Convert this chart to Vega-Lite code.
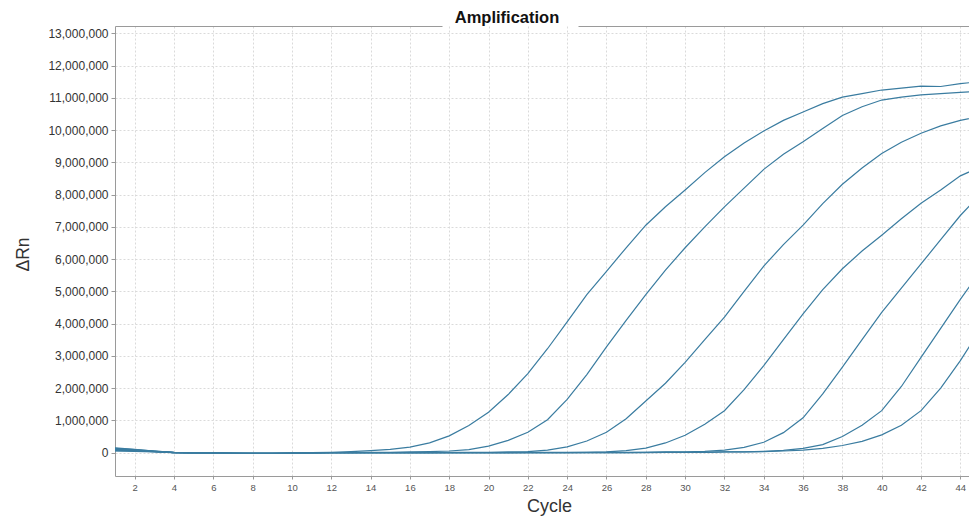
{
  "$schema": "https://vega.github.io/schema/vega-lite/v6.json",
  "width": 854,
  "height": 450,
  "autosize": {"type": "none"},
  "padding": {"left": 115, "top": 26, "right": 0, "bottom": 43},
  "background": "white",
  "config": {"view": {"stroke": null}, "font": "Liberation Sans"},
  "title": {"text": "Amplification", "fontSize": 16.5, "fontWeight": "bold", "color": "#111111", "anchor": "middle", "dx": -35, "dy": 16, "baseline": "alphabetic", "offset": 3, "font": "Liberation Sans"},
  "data": {"values": [
    {"well":"A","cycle":1,"rn":130000},{"well":"A","cycle":2,"rn":90000},{"well":"A","cycle":3,"rn":50000},{"well":"A","cycle":4,"rn":10000},{"well":"A","cycle":5,"rn":-10000},{"well":"A","cycle":6,"rn":-10000},{"well":"A","cycle":7,"rn":-20000},{"well":"A","cycle":8,"rn":-20000},{"well":"A","cycle":9,"rn":-20000},{"well":"A","cycle":10,"rn":-20000},
    {"well":"A","cycle":11,"rn":0},{"well":"A","cycle":12,"rn":10000},{"well":"A","cycle":13,"rn":30000},{"well":"A","cycle":14,"rn":60000},{"well":"A","cycle":15,"rn":100000},{"well":"A","cycle":16,"rn":170000},{"well":"A","cycle":17,"rn":300000},{"well":"A","cycle":18,"rn":520000},{"well":"A","cycle":19,"rn":840000},{"well":"A","cycle":20,"rn":1250000},
    {"well":"A","cycle":21,"rn":1800000},{"well":"A","cycle":22,"rn":2450000},{"well":"A","cycle":23,"rn":3220000},{"well":"A","cycle":24,"rn":4050000},{"well":"A","cycle":25,"rn":4900000},{"well":"A","cycle":26,"rn":5620000},{"well":"A","cycle":27,"rn":6350000},{"well":"A","cycle":28,"rn":7050000},{"well":"A","cycle":29,"rn":7620000},{"well":"A","cycle":30,"rn":8140000},
    {"well":"A","cycle":31,"rn":8680000},{"well":"A","cycle":32,"rn":9170000},{"well":"A","cycle":33,"rn":9600000},{"well":"A","cycle":34,"rn":9970000},{"well":"A","cycle":35,"rn":10300000},{"well":"A","cycle":36,"rn":10560000},{"well":"A","cycle":37,"rn":10820000},{"well":"A","cycle":38,"rn":11020000},{"well":"A","cycle":39,"rn":11130000},{"well":"A","cycle":40,"rn":11240000},
    {"well":"A","cycle":41,"rn":11300000},{"well":"A","cycle":42,"rn":11360000},{"well":"A","cycle":43,"rn":11350000},{"well":"A","cycle":44,"rn":11440000},{"well":"A","cycle":45,"rn":11500000},

    {"well":"B","cycle":1,"rn":100000},{"well":"B","cycle":2,"rn":70000},{"well":"B","cycle":3,"rn":40000},{"well":"B","cycle":4,"rn":0},{"well":"B","cycle":5,"rn":-10000},{"well":"B","cycle":6,"rn":-20000},{"well":"B","cycle":7,"rn":-20000},{"well":"B","cycle":8,"rn":-20000},{"well":"B","cycle":9,"rn":-20000},{"well":"B","cycle":10,"rn":-10000},
    {"well":"B","cycle":11,"rn":0},{"well":"B","cycle":12,"rn":0},{"well":"B","cycle":13,"rn":0},{"well":"B","cycle":14,"rn":10000},{"well":"B","cycle":15,"rn":10000},{"well":"B","cycle":16,"rn":20000},{"well":"B","cycle":17,"rn":30000},{"well":"B","cycle":18,"rn":50000},{"well":"B","cycle":19,"rn":90000},{"well":"B","cycle":20,"rn":200000},
    {"well":"B","cycle":21,"rn":380000},{"well":"B","cycle":22,"rn":630000},{"well":"B","cycle":23,"rn":1020000},{"well":"B","cycle":24,"rn":1650000},{"well":"B","cycle":25,"rn":2420000},{"well":"B","cycle":26,"rn":3280000},{"well":"B","cycle":27,"rn":4100000},{"well":"B","cycle":28,"rn":4900000},{"well":"B","cycle":29,"rn":5660000},{"well":"B","cycle":30,"rn":6350000},
    {"well":"B","cycle":31,"rn":7000000},{"well":"B","cycle":32,"rn":7620000},{"well":"B","cycle":33,"rn":8200000},{"well":"B","cycle":34,"rn":8780000},{"well":"B","cycle":35,"rn":9250000},{"well":"B","cycle":36,"rn":9640000},{"well":"B","cycle":37,"rn":10050000},{"well":"B","cycle":38,"rn":10450000},{"well":"B","cycle":39,"rn":10720000},{"well":"B","cycle":40,"rn":10930000},
    {"well":"B","cycle":41,"rn":11020000},{"well":"B","cycle":42,"rn":11090000},{"well":"B","cycle":43,"rn":11130000},{"well":"B","cycle":44,"rn":11170000},{"well":"B","cycle":45,"rn":11200000},

    {"well":"C","cycle":1,"rn":60000},{"well":"C","cycle":2,"rn":50000},{"well":"C","cycle":3,"rn":30000},{"well":"C","cycle":4,"rn":0},{"well":"C","cycle":5,"rn":-10000},{"well":"C","cycle":6,"rn":-10000},{"well":"C","cycle":7,"rn":-20000},{"well":"C","cycle":8,"rn":-20000},{"well":"C","cycle":9,"rn":-20000},{"well":"C","cycle":10,"rn":-20000},
    {"well":"C","cycle":11,"rn":-10000},{"well":"C","cycle":12,"rn":0},{"well":"C","cycle":13,"rn":0},{"well":"C","cycle":14,"rn":0},{"well":"C","cycle":15,"rn":0},{"well":"C","cycle":16,"rn":0},{"well":"C","cycle":17,"rn":0},{"well":"C","cycle":18,"rn":10000},{"well":"C","cycle":19,"rn":10000},{"well":"C","cycle":20,"rn":10000},
    {"well":"C","cycle":21,"rn":20000},{"well":"C","cycle":22,"rn":30000},{"well":"C","cycle":23,"rn":80000},{"well":"C","cycle":24,"rn":180000},{"well":"C","cycle":25,"rn":360000},{"well":"C","cycle":26,"rn":630000},{"well":"C","cycle":27,"rn":1050000},{"well":"C","cycle":28,"rn":1600000},{"well":"C","cycle":29,"rn":2150000},{"well":"C","cycle":30,"rn":2800000},
    {"well":"C","cycle":31,"rn":3500000},{"well":"C","cycle":32,"rn":4200000},{"well":"C","cycle":33,"rn":5000000},{"well":"C","cycle":34,"rn":5780000},{"well":"C","cycle":35,"rn":6450000},{"well":"C","cycle":36,"rn":7050000},{"well":"C","cycle":37,"rn":7720000},{"well":"C","cycle":38,"rn":8320000},{"well":"C","cycle":39,"rn":8820000},{"well":"C","cycle":40,"rn":9270000},
    {"well":"C","cycle":41,"rn":9620000},{"well":"C","cycle":42,"rn":9900000},{"well":"C","cycle":43,"rn":10130000},{"well":"C","cycle":44,"rn":10300000},{"well":"C","cycle":45,"rn":10420000},

    {"well":"D","cycle":1,"rn":150000},{"well":"D","cycle":2,"rn":100000},{"well":"D","cycle":3,"rn":50000},{"well":"D","cycle":4,"rn":10000},{"well":"D","cycle":5,"rn":0},{"well":"D","cycle":6,"rn":-10000},{"well":"D","cycle":7,"rn":-20000},{"well":"D","cycle":8,"rn":-20000},{"well":"D","cycle":9,"rn":-20000},{"well":"D","cycle":10,"rn":-20000},
    {"well":"D","cycle":11,"rn":-10000},{"well":"D","cycle":12,"rn":0},{"well":"D","cycle":13,"rn":0},{"well":"D","cycle":14,"rn":0},{"well":"D","cycle":15,"rn":0},{"well":"D","cycle":16,"rn":0},{"well":"D","cycle":17,"rn":0},{"well":"D","cycle":18,"rn":0},{"well":"D","cycle":19,"rn":0},{"well":"D","cycle":20,"rn":0},
    {"well":"D","cycle":21,"rn":0},{"well":"D","cycle":22,"rn":10000},{"well":"D","cycle":23,"rn":10000},{"well":"D","cycle":24,"rn":10000},{"well":"D","cycle":25,"rn":10000},{"well":"D","cycle":26,"rn":20000},{"well":"D","cycle":27,"rn":60000},{"well":"D","cycle":28,"rn":140000},{"well":"D","cycle":29,"rn":300000},{"well":"D","cycle":30,"rn":540000},
    {"well":"D","cycle":31,"rn":880000},{"well":"D","cycle":32,"rn":1300000},{"well":"D","cycle":33,"rn":1950000},{"well":"D","cycle":34,"rn":2700000},{"well":"D","cycle":35,"rn":3500000},{"well":"D","cycle":36,"rn":4300000},{"well":"D","cycle":37,"rn":5050000},{"well":"D","cycle":38,"rn":5700000},{"well":"D","cycle":39,"rn":6250000},{"well":"D","cycle":40,"rn":6740000},
    {"well":"D","cycle":41,"rn":7250000},{"well":"D","cycle":42,"rn":7730000},{"well":"D","cycle":43,"rn":8140000},{"well":"D","cycle":44,"rn":8580000},{"well":"D","cycle":45,"rn":8850000},

    {"well":"E","cycle":1,"rn":80000},{"well":"E","cycle":2,"rn":60000},{"well":"E","cycle":3,"rn":30000},{"well":"E","cycle":4,"rn":0},{"well":"E","cycle":5,"rn":-10000},{"well":"E","cycle":6,"rn":-10000},{"well":"E","cycle":7,"rn":-20000},{"well":"E","cycle":8,"rn":-20000},{"well":"E","cycle":9,"rn":-20000},{"well":"E","cycle":10,"rn":-10000},
    {"well":"E","cycle":11,"rn":-10000},{"well":"E","cycle":12,"rn":0},{"well":"E","cycle":13,"rn":0},{"well":"E","cycle":14,"rn":0},{"well":"E","cycle":15,"rn":0},{"well":"E","cycle":16,"rn":0},{"well":"E","cycle":17,"rn":0},{"well":"E","cycle":18,"rn":0},{"well":"E","cycle":19,"rn":0},{"well":"E","cycle":20,"rn":0},
    {"well":"E","cycle":21,"rn":0},{"well":"E","cycle":22,"rn":0},{"well":"E","cycle":23,"rn":0},{"well":"E","cycle":24,"rn":0},{"well":"E","cycle":25,"rn":10000},{"well":"E","cycle":26,"rn":10000},{"well":"E","cycle":27,"rn":10000},{"well":"E","cycle":28,"rn":10000},{"well":"E","cycle":29,"rn":20000},{"well":"E","cycle":30,"rn":20000},
    {"well":"E","cycle":31,"rn":40000},{"well":"E","cycle":32,"rn":80000},{"well":"E","cycle":33,"rn":160000},{"well":"E","cycle":34,"rn":320000},{"well":"E","cycle":35,"rn":620000},{"well":"E","cycle":36,"rn":1080000},{"well":"E","cycle":37,"rn":1820000},{"well":"E","cycle":38,"rn":2650000},{"well":"E","cycle":39,"rn":3500000},{"well":"E","cycle":40,"rn":4350000},
    {"well":"E","cycle":41,"rn":5100000},{"well":"E","cycle":42,"rn":5850000},{"well":"E","cycle":43,"rn":6600000},{"well":"E","cycle":44,"rn":7350000},{"well":"E","cycle":45,"rn":8000000},

    {"well":"F","cycle":1,"rn":50000},{"well":"F","cycle":2,"rn":40000},{"well":"F","cycle":3,"rn":20000},{"well":"F","cycle":4,"rn":0},{"well":"F","cycle":5,"rn":-10000},{"well":"F","cycle":6,"rn":-10000},{"well":"F","cycle":7,"rn":-10000},{"well":"F","cycle":8,"rn":-20000},{"well":"F","cycle":9,"rn":-20000},{"well":"F","cycle":10,"rn":-20000},
    {"well":"F","cycle":11,"rn":-10000},{"well":"F","cycle":12,"rn":0},{"well":"F","cycle":13,"rn":0},{"well":"F","cycle":14,"rn":0},{"well":"F","cycle":15,"rn":0},{"well":"F","cycle":16,"rn":0},{"well":"F","cycle":17,"rn":0},{"well":"F","cycle":18,"rn":0},{"well":"F","cycle":19,"rn":0},{"well":"F","cycle":20,"rn":0},
    {"well":"F","cycle":21,"rn":0},{"well":"F","cycle":22,"rn":0},{"well":"F","cycle":23,"rn":0},{"well":"F","cycle":24,"rn":0},{"well":"F","cycle":25,"rn":0},{"well":"F","cycle":26,"rn":0},{"well":"F","cycle":27,"rn":0},{"well":"F","cycle":28,"rn":10000},{"well":"F","cycle":29,"rn":10000},{"well":"F","cycle":30,"rn":10000},
    {"well":"F","cycle":31,"rn":10000},{"well":"F","cycle":32,"rn":20000},{"well":"F","cycle":33,"rn":20000},{"well":"F","cycle":34,"rn":40000},{"well":"F","cycle":35,"rn":70000},{"well":"F","cycle":36,"rn":130000},{"well":"F","cycle":37,"rn":250000},{"well":"F","cycle":38,"rn":500000},{"well":"F","cycle":39,"rn":850000},{"well":"F","cycle":40,"rn":1300000},
    {"well":"F","cycle":41,"rn":2050000},{"well":"F","cycle":42,"rn":2950000},{"well":"F","cycle":43,"rn":3850000},{"well":"F","cycle":44,"rn":4750000},{"well":"F","cycle":45,"rn":5600000},

    {"well":"G","cycle":1,"rn":110000},{"well":"G","cycle":2,"rn":80000},{"well":"G","cycle":3,"rn":40000},{"well":"G","cycle":4,"rn":0},{"well":"G","cycle":5,"rn":-10000},{"well":"G","cycle":6,"rn":-10000},{"well":"G","cycle":7,"rn":-20000},{"well":"G","cycle":8,"rn":-20000},{"well":"G","cycle":9,"rn":-20000},{"well":"G","cycle":10,"rn":-20000},
    {"well":"G","cycle":11,"rn":-10000},{"well":"G","cycle":12,"rn":0},{"well":"G","cycle":13,"rn":0},{"well":"G","cycle":14,"rn":0},{"well":"G","cycle":15,"rn":0},{"well":"G","cycle":16,"rn":0},{"well":"G","cycle":17,"rn":0},{"well":"G","cycle":18,"rn":0},{"well":"G","cycle":19,"rn":0},{"well":"G","cycle":20,"rn":0},
    {"well":"G","cycle":21,"rn":0},{"well":"G","cycle":22,"rn":0},{"well":"G","cycle":23,"rn":0},{"well":"G","cycle":24,"rn":0},{"well":"G","cycle":25,"rn":0},{"well":"G","cycle":26,"rn":0},{"well":"G","cycle":27,"rn":0},{"well":"G","cycle":28,"rn":0},{"well":"G","cycle":29,"rn":10000},{"well":"G","cycle":30,"rn":10000},
    {"well":"G","cycle":31,"rn":10000},{"well":"G","cycle":32,"rn":20000},{"well":"G","cycle":33,"rn":20000},{"well":"G","cycle":34,"rn":30000},{"well":"G","cycle":35,"rn":50000},{"well":"G","cycle":36,"rn":80000},{"well":"G","cycle":37,"rn":130000},{"well":"G","cycle":38,"rn":220000},{"well":"G","cycle":39,"rn":350000},{"well":"G","cycle":40,"rn":550000},
    {"well":"G","cycle":41,"rn":850000},{"well":"G","cycle":42,"rn":1300000},{"well":"G","cycle":43,"rn":2000000},{"well":"G","cycle":44,"rn":2850000},{"well":"G","cycle":45,"rn":3800000}
  ]},
  "layer": [
    {
      "mark": {"type": "line", "clip": true, "color": "#3a7ca0", "strokeWidth": 1.2},
      "encoding": {
        "x": {"field": "cycle", "type": "quantitative",
          "scale": {"domain": [1, 44.44], "nice": false, "zero": false},
          "axis": {"orient": "bottom", "values": [2,4,6,8,10,12,14,16,18,20,22,24,26,28,30,32,34,36,38,40,42,44],
            "tickSize": 3, "tickColor": "#9a9a9a", "domainColor": "#9a9a9a", "labelFontSize": 9.5, "labelColor": "#555555", "labelPadding": 3, "labelFlush": false, "labelOverlap": false,
            "grid": true, "gridColor": "#dadada", "gridDash": [2, 2],
            "title": "Cycle", "titleFontSize": 18, "titleFontWeight": "normal", "titleColor": "#333333", "titleX": 434, "titleY": 35, "titleBaseline": "alphabetic", "titleAlign": "center"}},
        "y": {"field": "rn", "type": "quantitative",
          "scale": {"domain": [-725000, 13225000], "nice": false, "zero": false},
          "axis": {"values": [0,1000000,2000000,3000000,4000000,5000000,6000000,7000000,8000000,9000000,10000000,11000000,12000000,13000000],
            "format": ",d", "tickSize": 4, "tickColor": "#9a9a9a", "domainColor": "#9a9a9a", "labelFontSize": 12, "labelColor": "#333333", "labelPadding": 3, "labelOverlap": false, "labelFlush": false,
            "grid": true, "gridColor": "#dadada", "gridDash": [2, 2],
            "title": "ΔRn", "titleFontSize": 17.5, "titleFontWeight": "normal", "titleColor": "#333333", "titleX": -92, "titleY": 228, "titleAngle": 270, "titleAlign": "center", "titleBaseline": "middle"}},
        "detail": {"field": "well", "type": "nominal"}
      }
    },
    {
      "mark": {"type": "point", "opacity": 0},
      "encoding": {
        "x": {"field": "cycle", "type": "quantitative",
          "axis": {"orient": "top", "labels": false, "ticks": false, "grid": false, "title": null, "domainColor": "#9a9a9a", "domainDash": [327, 136, 2000]}}
      }
    }
  ],
  "resolve": {"axis": {"x": "independent"}}
}
